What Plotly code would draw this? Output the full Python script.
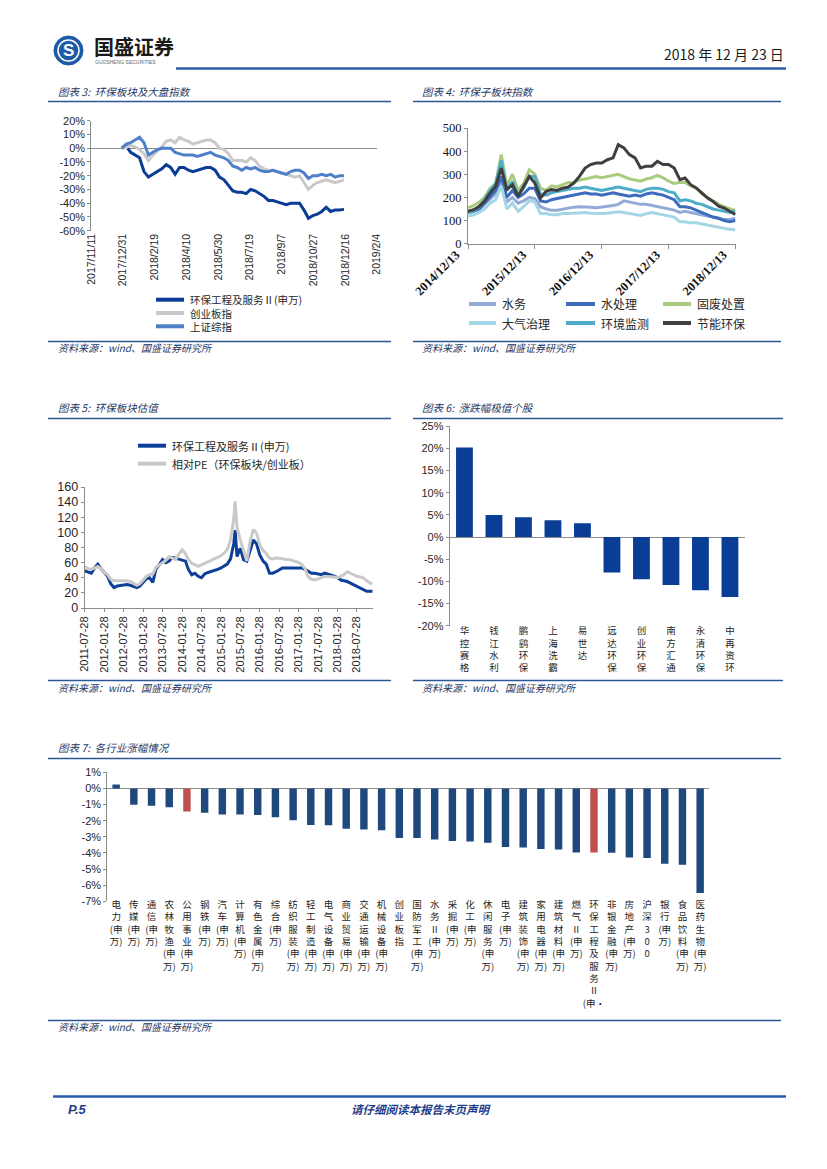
import plotly.graph_objects as go

W, H = 827, 1169
def px(x): return x / W
def py(y): return 1 - y / H

CJK = "Noto Sans CJK SC"
SANS = "Liberation Sans, Arial, sans-serif"
SERIF = "Liberation Serif, Times New Roman, serif"
NAVY = "#1F3864"
RULE = "#2B5797"
AXIS = "#8C8C8C"
INK = "#262626"

# ---------------- Chart 3 data (percent) ----------------
c3_dates = ["2017-12-29","2018-01-05","2018-01-12","2018-01-19","2018-01-26","2018-02-02","2018-02-09",
            "2018-02-16","2018-02-23","2018-03-02","2018-03-09","2018-03-16","2018-03-23","2018-03-30",
            "2018-04-06","2018-04-13","2018-04-20","2018-04-27","2018-05-04","2018-05-11","2018-05-18",
            "2018-05-25","2018-06-01","2018-06-08","2018-06-15","2018-06-22","2018-06-29","2018-07-06",
            "2018-07-13","2018-07-20","2018-07-27","2018-08-03","2018-08-10","2018-08-17","2018-08-24",
            "2018-08-31","2018-09-07","2018-09-14","2018-09-21","2018-09-28","2018-10-05","2018-10-12",
            "2018-10-19","2018-10-26","2018-11-02","2018-11-09","2018-11-16","2018-11-23","2018-11-30",
            "2018-12-07","2018-12-14"]
c3_huanbao = [0, 1.5, -3, -5, -7, -17, -21, -19, -17, -15, -12, -14, -19, -14, -14, -16, -17, -16, -15,
              -14, -14, -16, -21, -23, -27, -31, -32, -32, -33, -30, -31, -33, -35, -38, -38, -39, -40,
              -41, -40, -40, -40, -45, -51, -49, -48, -46, -43, -46, -45, -45, -44.5]
c3_chuangye = [0, 0.5, 2, 1, -1, -4, -9, -5, -2, 1, 5, 6, 4, 8, 6, 5, 3, 4, 5, 6, 6, 4, 0, -1, -4, -9,
               -9, -9, -10, -7, -9, -13, -15, -16, -16, -17, -18, -19, -20, -21, -20, -25, -30, -27,
               -25, -24, -23, -24, -25, -24, -23]
c3_shangzheng = [0, 3, 4, 6, 8, 4, -5, -3, -1, 0, 0, 0, -3, -4, -5, -5, -5, -6, -5, -4, -3, -5, -6, -7,
                 -9, -13, -14, -16, -14, -15, -14, -16, -17, -17, -16, -17, -18, -19, -17, -16, -16,
                 -18, -22, -20, -20, -19, -20, -19, -21, -20, -20]
c3_names = ["环保工程及服务Ⅱ(申万)", "创业板指", "上证综指"]
c3_tickvals = ["2017-11-11","2017-12-31","2018-02-19","2018-04-10","2018-05-30","2018-07-19",
               "2018-09-07","2018-10-27","2018-12-16","2019-02-04"]
c3_ticktext = ["2017/11/11","2017/12/31","2018/2/19","2018/4/10","2018/5/30","2018/7/19",
               "2018/9/7","2018/10/27","2018/12/16","2019/2/4"]
c3_yvals = [20, 10, 0, -10, -20, -30, -40, -50, -60]
c3_ytext = ["20%","10%","0%","-10%","-20%","-30%","-40%","-50%","-60%"]

# ---------------- Chart 4 data ----------------
c4_dates = ["2014-12-13","2015-01-13","2015-02-13","2015-03-13","2015-04-13","2015-05-13","2015-06-13",
            "2015-07-13","2015-08-13","2015-09-13","2015-10-13","2015-11-13","2015-12-13","2016-01-13",
            "2016-02-13","2016-03-13","2016-04-13","2016-05-13","2016-06-13","2016-07-13","2016-08-13",
            "2016-09-13","2016-10-13","2016-11-13","2016-12-13","2017-01-13","2017-02-13","2017-03-13",
            "2017-04-13","2017-05-13","2017-06-13","2017-07-13","2017-08-13","2017-09-13","2017-10-13",
            "2017-11-13","2017-12-13","2018-01-13","2018-02-13","2018-03-13","2018-04-13","2018-05-13",
            "2018-06-13","2018-07-13","2018-08-13","2018-09-13","2018-10-13","2018-11-13","2018-12-13"]
c4_shuiwu = [135,140,150,170,195,215,265,180,200,175,185,200,195,160,150,145,145,150,155,158,160,160,
             158,155,160,162,165,170,185,180,175,170,170,165,160,155,150,145,135,140,135,130,125,120,
             115,110,105,105,110]
c4_shuichuli = [140,140,150,175,200,230,290,200,230,200,215,240,240,185,180,190,195,200,205,210,215,
                220,215,215,210,215,220,215,210,205,210,205,215,220,215,210,200,190,160,160,155,145,
                135,125,115,110,100,95,100]
c4_gufei = [155,165,180,200,240,260,385,250,300,230,260,320,300,240,230,250,245,255,265,265,275,280,
            285,290,285,290,295,300,290,280,275,270,280,285,295,285,270,260,265,265,250,240,220,200,
            185,170,160,150,145]
c4_daqi = [120,125,135,150,175,190,250,150,175,140,160,185,180,130,130,125,125,130,130,132,135,135,
           132,130,130,132,135,138,135,130,125,122,130,135,130,125,120,115,95,95,90,90,85,80,75,70,
           65,62,60]
c4_jiance = [135,140,160,190,230,260,360,230,270,210,240,290,290,215,210,220,225,230,235,240,240,245,
             240,235,230,235,240,245,240,235,230,225,235,240,240,235,225,220,185,190,185,175,170,160,
             150,145,140,135,140]
c4_jieneng = [140,147,162,183,219,248,327,234,255,205,248,291,262,198,226,234,230,240,245,262,291,327,
              342,349,349,363,371,428,414,385,371,327,335,335,356,342,342,327,277,284,255,241,219,198,
              183,162,154,140,126]
c4_names = ["水务", "水处理", "固废处置", "大气治理", "环境监测", "节能环保"]
c4_tickvals = ["2014-12-13","2015-12-13","2016-12-13","2017-12-13","2018-12-13"]
c4_ticktext = ["2014/12/13","2015/12/13","2016/12/13","2017/12/13","2018/12/13"]
c4_yvals = [0, 100, 200, 300, 400, 500]

# ---------------- Chart 5 data ----------------
c5_dates = ["2011-07-28","2011-08-28","2011-09-28","2011-10-28","2011-11-28","2011-12-28",
            "2012-01-28","2012-02-28","2012-03-28","2012-04-28","2012-05-28","2012-06-28",
            "2012-07-28","2012-08-28","2012-09-28","2012-10-28","2012-11-28","2012-12-28",
            "2013-01-28","2013-02-28","2013-03-28","2013-04-28","2013-05-28","2013-06-28",
            "2013-07-28","2013-08-28","2013-09-28","2013-10-28","2013-11-28","2013-12-28",
            "2014-01-28","2014-02-28","2014-03-28","2014-04-28","2014-05-28","2014-06-28",
            "2014-07-28","2014-08-28","2014-09-28","2014-10-28","2014-11-28","2014-12-28",
            "2015-01-28","2015-02-28","2015-03-28","2015-04-28","2015-05-28","2015-06-10",
            "2015-06-28","2015-07-28","2015-08-28","2015-09-28","2015-10-28","2015-11-28","2015-12-28",
            "2016-01-28","2016-02-28","2016-03-28","2016-04-28","2016-05-28","2016-06-28",
            "2016-07-28","2016-08-28","2016-09-28","2016-10-28","2016-11-28","2016-12-28",
            "2017-01-28","2017-02-28","2017-03-28","2017-04-28","2017-05-28","2017-06-28",
            "2017-07-28","2017-08-28","2017-09-28","2017-10-28","2017-11-28","2017-12-28",
            "2018-01-28","2018-02-28","2018-03-28","2018-04-28","2018-05-28","2018-06-28",
            "2018-07-28","2018-08-28","2018-09-28","2018-10-28","2018-11-28","2018-12-21"]
c5_pe = [49,48,46,53,58,52,
         47,42,32,27,29,30,30,31,30,29,27,29,
         34,39,40,34,52,57,64,60,62,67,66,65,
         64,62,51,44,46,42,40,45,47,48,49,51,
         53,56,58,65,85,103,
         68,79,64,62,75,90,85,
         70,62,58,46,46,48,51,53,53,53,52,52,
         52,53,51,48,46,46,45,44,46,45,44,42,
         40,37,36,35,33,31,29,27,25,22,22,22]
c5_rel = [55,52,51,53,55,52,
          47,44,38,36,36,37,36,36,35,33,30,32,
          37,42,44,45,54,57,60,63,68,66,64,71,
          77,72,64,59,57,55,57,59,61,64,65,67,
          69,73,77,90,118,141,
          106,90,75,62,88,104,99,
          83,76,72,66,65,66,66,65,64,64,63,62,
          60,57,52,41,38,37,39,40,42,42,42,41,
          40,42,44,48,46,44,42,41,40,36,33,32]
c5_names = ["环保工程及服务Ⅱ(申万)", "相对PE（环保板块/创业板）"]
c5_tickvals = ["2011-07-28","2012-01-28","2012-07-28","2013-01-28","2013-07-28","2014-01-28",
               "2014-07-28","2015-01-28","2015-07-28","2016-01-28","2016-07-28","2017-01-28",
               "2017-07-28","2018-01-28","2018-07-28"]
c5_yvals = [0, 20, 40, 60, 80, 100, 120, 140, 160]

# ---------------- Chart 6 data (percent) ----------------
c6_stocks = ["华控赛格","钱江水利","鹏鹞环保","上海洗霸","易世达","远达环保","创业环保","南方汇通","永清环保","中再资环"]
c6_values = [20.2, 5.0, 4.5, 3.8, 3.1, -8.0, -9.5, -10.8, -12.0, -13.5]
c6_yvals = [25, 20, 15, 10, 5, 0, -5, -10, -15, -20]
c6_ytext = ["25%","20%","15%","10%","5%","0%","-5%","-10%","-15%","-20%"]

# ---------------- Chart 7 data (percent) ----------------
c7_inds = ["电力(申万)","传媒(申万)","通信(申万)","农林牧渔(申万)","公用事业(申万)","钢铁(申万)",
           "汽车(申万)","计算机(申万)","有色金属(申万)","综合(申万)","纺织服装(申万)","轻工制造(申万)",
           "电气设备(申万)","商业贸易(申万)","交通运输(申万)","机械设备(申万)","创业板指","国防军工(申万)",
           "水务Ⅱ(申万)","采掘(申万)","化工(申万)","休闲服务(申万)","电子(申万)","建筑装饰(申万)",
           "家用电器(申万)","建筑材料(申万)","燃气Ⅱ(申万)","环保工程及服务Ⅱ(申万)","非银金融(申万)",
           "房地产(申万)","沪深300","银行(申万)","食品饮料(申万)","医药生物(申万)"]
c7_values = [0.25, -1.01, -1.07, -1.16, -1.43, -1.51, -1.61, -1.61, -1.65, -1.78, -1.98, -2.27,
             -2.29, -2.50, -2.54, -2.60, -3.08, -3.08, -3.16, -3.26, -3.29, -3.37, -3.64, -3.66,
             -3.76, -3.78, -3.97, -3.97, -3.99, -4.28, -4.32, -4.67, -4.73, -6.49]
c7_highlight = ["公用事业(申万)", "环保工程及服务Ⅱ(申万)"]
c7_yvals = [1, 0, -1, -2, -3, -4, -5, -6, -7]
c7_ytext = ["1%","0%","-1%","-2%","-3%","-4%","-5%","-6%","-7%"]


def stack(s, max_lines=None):
    toks = []
    i = 0
    while i < len(s):
        ch = s[i]
        if ch == "(" and i + 1 < len(s):
            toks.append("(" + s[i + 1]); i += 2; continue
        if ch == ")":
            toks[-1] += ")"; i += 1; continue
        toks.append(ch); i += 1
    if max_lines and len(toks) > max_lines:
        toks = toks[:max_lines]
        toks[-1] += "·"
    return "<br>".join(toks)


fig = go.Figure()

# Chart 3 traces
c3_colors = ["#0A3C96", "#C9C9C9", "#4D80C8"]
for nm, ys, col in zip(c3_names, [c3_huanbao, c3_chuangye, c3_shangzheng], c3_colors):
    fig.add_trace(go.Scatter(x=c3_dates, y=ys, name=nm, mode="lines",
                             line=dict(color=col, width=3), xaxis="x", yaxis="y"))

# Chart 4 traces
c4_colors = ["#93AAD9", "#3D6CBE", "#AACB7D", "#A4D6E6", "#4DADC9", "#3F3F3F"]
for nm, ys, col in zip(c4_names, [c4_shuiwu, c4_shuichuli, c4_gufei, c4_daqi, c4_jiance, c4_jieneng], c4_colors):
    fig.add_trace(go.Scatter(x=c4_dates, y=ys, name=nm, mode="lines",
                             line=dict(color=col, width=3), xaxis="x2", yaxis="y2"))

# Chart 5 traces
c5_colors = ["#0B3F99", "#C9C9C9"]
for nm, ys, col in zip(c5_names, [c5_pe, c5_rel], c5_colors):
    fig.add_trace(go.Scatter(x=c5_dates, y=ys, name=nm, mode="lines",
                             line=dict(color=col, width=3), xaxis="x3", yaxis="y3"))

# Chart 6 bars
fig.add_trace(go.Bar(x=c6_stocks, y=c6_values, marker=dict(color="#0A3D96", line=dict(width=0)),
                     width=0.57, xaxis="x4", yaxis="y4"))

# Chart 7 bars
c7_colors = ["#C0504D" if n in c7_highlight else "#1F497D" for n in c7_inds]
fig.add_trace(go.Bar(x=c7_inds, y=c7_values, marker=dict(color=c7_colors, line=dict(width=0)),
                     width=0.42, xaxis="x5", yaxis="y5"))

shapes = []
annots = []

def rule(x0, x1, y, w=1.6, color=RULE):
    shapes.append(dict(type="line", xref="paper", yref="paper", x0=px(x0), x1=px(x1),
                       y0=py(y), y1=py(y), line=dict(color=color, width=w)))

def text(x, y, t, size, color=INK, family=CJK, xanchor="left", weight=None):
    f = dict(size=size, color=color, family=family)
    if weight:
        f["weight"] = weight
    annots.append(dict(xref="paper", yref="paper", x=px(x), y=py(y), text=t, showarrow=False,
                       xanchor=xanchor, yanchor="middle", font=f))

def leg(x0, x1, y, color, label, size, w=4):
    shapes.append(dict(type="line", xref="paper", yref="paper", x0=px(x0), x1=px(x1),
                       y0=py(y), y1=py(y), line=dict(color=color, width=w)))
    text(x1 + 4, y, label, size)

# Header
shapes.append(dict(type="circle", xref="paper", yref="paper", x0=px(46), x1=px(75), y0=py(57), y1=py(28),
                   fillcolor="#1D5BA8", line=dict(color="#1D5BA8", width=1)))
shapes.append(dict(type="circle", xref="paper", yref="paper", x0=px(50), x1=px(71), y0=py(53), y1=py(32),
                   fillcolor="rgba(0,0,0,0)", line=dict(color="white", width=1.5)))
text(60.5, 42.5, "<b>S</b>", 17, color="white", family=SANS, xanchor="center")
text(84, 38, "<b>国盛证券</b>", 20, color="#1A1A1A")
text(85, 54, "GUOSHENG SECURITIES", 5, color="#666666", family=SANS)
text(778, 46, "2018 年 12 月 23 日", 14, color="#1A1A1A", family="Liberation Sans Narrow, " + CJK, xanchor="right")
rule(168, 778, 60.5, w=2.5, color="#2A5CA8")

# Titles and rules
for x, y, t in [(48, 83, "图表 3:  环保板块及大盘指数"), (412, 83, "图表 4:  环保子板块指数"),
                (48, 399, "图表 5:  环保板块估值"), (412, 399, "图表 6:  涨跌幅极值个股"),
                (48, 740, "图表 7:  各行业涨幅情况")]:
    text(x, y, "<i>" + t + "</i>", 10.5, color=NAVY)
for x0, x1, y in [(40, 383, 93.5), (405, 773, 93.5), (40, 383, 333.5), (405, 773, 333.5),
                  (40, 383, 410.5), (405, 775, 410.5), (40, 383, 672.5), (405, 775, 672.5),
                  (40, 773, 750.5), (40, 773, 1012.5)]:
    rule(x0, x1, y)
for x, y in [(48, 339.5), (412, 339.5), (48, 679), (412, 679), (48, 1018.5)]:
    text(x, y, "<i>资料来源：wind、国盛证券研究所</i>", 10, color=NAVY)

# Footer
rule(45, 778, 1088.5, w=2.5, color="#2A5CA8")
text(58, 1101, "<b><i>P.5</i></b>", 13, color="#1F3D8A", family=SANS)
text(413, 1101, "<b><i>请仔细阅读本报告末页声明</i></b>", 11.5, color="#1F3D8A", xanchor="center")

# Legends (drawn manually)
for y, col, nm in zip([291.7, 305, 318.3], c3_colors, c3_names):
    leg(148, 176, y, col, nm, 10.5)
c4_pos = [(461, 488, 296), (558, 587, 296), (655, 683, 296), (461, 488, 315), (558, 587, 315), (655, 683, 315)]
for (x0, x1, y), col, nm in zip(c4_pos, c4_colors, c4_names):
    leg(x0, x1, y, col, nm, 12)
for y, col, nm in zip([437.7, 455.7], c5_colors, c5_names):
    leg(130, 158, y, col, nm, 11)

tick_sans = dict(family=SANS, size=11, color=INK)

fig.update_layout(
    width=W, height=H, margin=dict(l=0, r=0, t=0, b=0, autoexpand=False),
    paper_bgcolor="white", plot_bgcolor="white", showlegend=False,
    shapes=shapes, annotations=annots,
    # Chart 3
    xaxis=dict(domain=[px(83.3), px(369)], anchor="y", type="date", range=["2017-11-11", "2019-02-04"],
               tickmode="array", tickvals=c3_tickvals, ticktext=c3_ticktext, tickangle=-90,
               showgrid=False, showline=False, zeroline=False, ticks="", automargin=False,
               tickfont=dict(family=SANS, size=10.5, color=INK)),
    yaxis=dict(domain=[py(222.7), py(112.7)], anchor="x", range=[-60, 20],
               tickmode="array", tickvals=c3_yvals, ticktext=c3_ytext, automargin=False,
               showgrid=False, showline=True, linecolor=AXIS, linewidth=1, ticks="outside", ticklen=3,
               tickcolor=AXIS, zeroline=True, zerolinecolor=AXIS, zerolinewidth=1, tickfont=tick_sans),
    # Chart 4
    xaxis2=dict(domain=[px(460), px(727.7)], anchor="y2", type="date", range=["2014-12-13", "2018-12-15"],
                tickmode="array", tickvals=c4_tickvals, ticktext=c4_ticktext, tickangle=-45,
                showgrid=False, showline=True, linecolor=AXIS, linewidth=1, ticks="outside", ticklen=4,
                tickcolor=AXIS, zeroline=False, automargin=False, ticklabelshift=-12, ticklabelstandoff=-6,
                tickfont=dict(family=SERIF, size=12.5, color="#111111", weight="bold")),
    yaxis2=dict(domain=[py(235.7), py(120)], anchor="x2", range=[0, 500],
                tickmode="array", tickvals=c4_yvals, automargin=False,
                showgrid=False, showline=True, linecolor=AXIS, linewidth=1, ticks="outside", ticklen=3,
                tickcolor=AXIS, zeroline=False, tickfont=dict(family=SERIF, size=12.5, color="#111111")),
    # Chart 5
    xaxis3=dict(domain=[px(76.7), px(365)], anchor="y3", type="date", range=["2011-07-28", "2018-12-26"],
                tickmode="array", tickvals=c5_tickvals, ticktext=c5_tickvals, tickangle=-90,
                showgrid=False, showline=True, linecolor=AXIS, linewidth=1, ticks="outside", ticklen=3,
                tickcolor=AXIS, zeroline=False, automargin=False,
                tickfont=dict(family=SANS, size=11, color=INK)),
    yaxis3=dict(domain=[py(600), py(479)], anchor="x3", range=[0, 160],
                tickmode="array", tickvals=c5_yvals, automargin=False,
                showgrid=False, showline=True, linecolor=AXIS, linewidth=1, ticks="outside", ticklen=3,
                tickcolor=AXIS, zeroline=False, tickfont=dict(family=SANS, size=12.5, color=INK)),
    # Chart 6
    xaxis4=dict(domain=[px(441.7), px(736.7)], anchor="y4", type="category",
                tickmode="array", tickvals=c6_stocks, ticktext=[stack(s) for s in c6_stocks],
                tickangle=0, showgrid=False, showline=False, zeroline=False, ticks="", automargin=False,
                ticklabelstandoff=-2, tickfont=dict(family=CJK, size=9.5, color=INK)),
    yaxis4=dict(domain=[py(617.7), py(418.3)], anchor="x4", range=[-20, 25],
                tickmode="array", tickvals=c6_yvals, ticktext=c6_ytext, automargin=False,
                showgrid=False, showline=True, linecolor=AXIS, linewidth=1, ticks="outside", ticklen=3,
                tickcolor=AXIS, zeroline=True, zerolinecolor=AXIS, zerolinewidth=1, tickfont=tick_sans),
    # Chart 7
    xaxis5=dict(domain=[px(99.3), px(701)], anchor="y5", type="category",
                tickmode="array", tickvals=c7_inds, ticktext=[stack(s, 9) for s in c7_inds],
                tickangle=0, showgrid=False, showline=False, zeroline=False, ticks="", automargin=False,
                ticklabelstandoff=-4, tickfont=dict(family=CJK, size=9.5, color=INK)),
    yaxis5=dict(domain=[py(893.3), py(764.3)], anchor="x5", range=[-7, 1],
                tickmode="array", tickvals=c7_yvals, ticktext=c7_ytext, automargin=False,
                showgrid=False, showline=True, linecolor=AXIS, linewidth=1, ticks="outside", ticklen=3,
                tickcolor=AXIS, zeroline=True, zerolinecolor=AXIS, zerolinewidth=1, tickfont=tick_sans),
)

fig.write_html("out.html")
